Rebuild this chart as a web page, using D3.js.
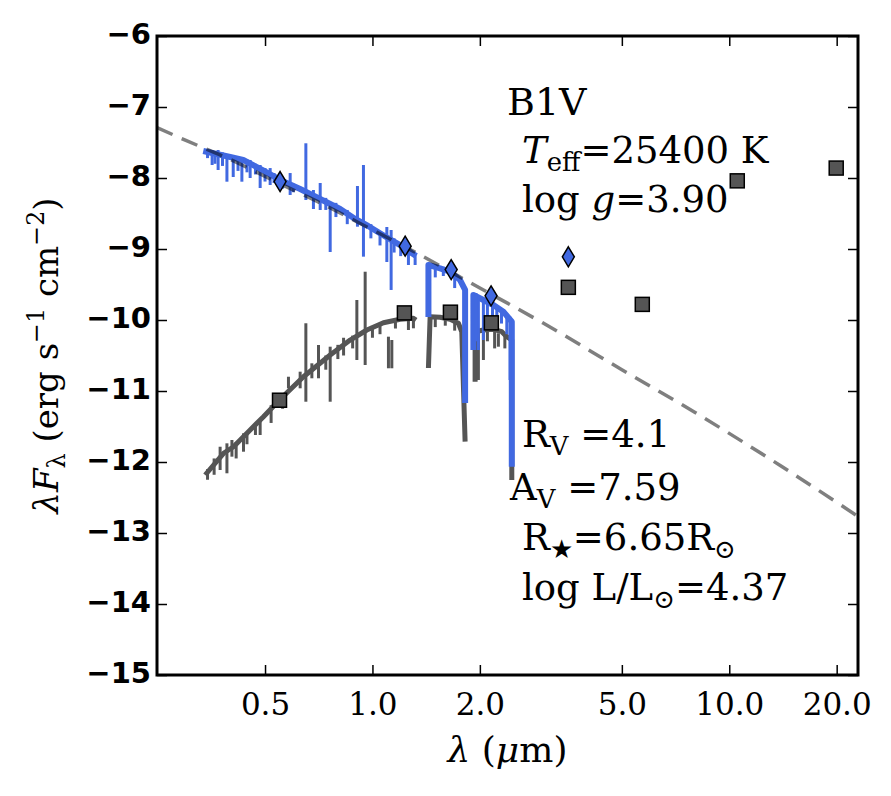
<!DOCTYPE html>
<html>
<head>
<meta charset="utf-8">
<script src="https://cdn.jsdelivr.net/npm/d3@7/dist/d3.min.js"></script>
<style>
body { margin: 0; background: #fff; }
text { font-family: 'DejaVu Serif', serif; fill: #000; }
</style>
</head>
<body>
<svg width="891" height="796"></svg>
<script>
/* global d3 */

/////////////////////////////////////////////////////////////////////////
// data

var xTicks = [0.5, 1, 2, 5, 10, 20]
var yTicks = [-15, -14, -13, -12, -11, -10, -9, -8, -7, -6]

// dashed photosphere curve
var bbLam = [0.249, 0.3, 0.4, 0.55, 0.7, 1.0, 1.3, 2.0, 3.0, 5.0, 8.0, 14, 23]
var bbVal = [-7.29, -7.47, -7.74, -8.08, -8.33, -8.73, -9.03, -9.55, -10.04, -10.70, -11.30, -12.06, -12.77]

// dereddened spectrum (blue), three pieces between telluric gaps
var blueSeg1 = [[0.3356,-7.620],[0.3554,-7.648],[0.3994,-7.704],[0.4343,-7.746],[0.4909,-7.887],[0.5512,-8.028],
	[0.6272,-8.155],[0.6777,-8.239],[0.8119,-8.437],[0.8944,-8.577],[0.9726,-8.676],[1.0924,-8.831],[1.1958,-8.944],
	[1.2753,-9.042],[1.3256,-9.099]]
var blueSeg2 = [[1.4352,-9.958],[1.4352,-9.225],[1.5474,-9.272],[1.6506,-9.320],[1.7606,-9.437],[1.8184,-9.577],[1.8184,-11.169]]
var blueSeg3 = [[1.9183,-10.423],[1.9183,-9.648],[2.0462,-9.718],[2.1827,-9.789],[2.3279,-9.883],[2.4577,-10.024],[2.4577,-12.066]]
// lines in the blue spectrum: [lambda, top, bottom]
var blueLines = [[0.6507,-7.511,-8.310],[0.9436,-7.817,-9.108],[0.9078,-8.113,-8.686],[0.7613,-8.338,-9.042],
	[1.1281,-8.732,-9.577],[1.0973,-8.690,-9.183],[0.7138,-8.070,-8.451],[0.5880,-7.930,-8.239],[0.6833,-8.169,-8.437],
	[0.4845,-7.817,-8.141],[0.4306,-7.718,-8.052],[0.3910,-7.662,-8.052],[0.3694,-7.606,-7.887],[0.4072,-7.676,-7.986],
	[1.2614,-8.986,-9.225],[1.3171,-9.056,-9.225],[0.3554,-7.606,-7.817],[0.4542,-7.746,-8.000],[0.5168,-7.860,-8.099],
	[1.9812,-9.690,-10.423],[2.0462,-9.718,-10.282],[2.2313,-9.813,-10.094],[2.4306,-9.954,-10.845],
	[0.345,-7.60,-7.72],[0.362,-7.62,-7.80],[0.380,-7.64,-7.83],[0.420,-7.70,-7.90],[0.445,-7.74,-7.92],
	[0.470,-7.80,-7.95],[0.500,-7.86,-8.05],[0.530,-7.93,-8.07],[0.560,-8.00,-8.15],[0.600,-8.08,-8.20],
	[0.740,-8.28,-8.45],[0.790,-8.35,-8.55],[0.850,-8.45,-8.65],[0.990,-8.65,-8.85],[1.050,-8.75,-8.95],
	[1.150,-8.85,-9.05],[1.200,-8.92,-9.10],[1.500,-9.22,-9.40],[1.580,-9.25,-9.38],[1.700,-9.35,-9.55],
	[1.950,-9.62,-10.30],[2.100,-9.72,-9.95],[2.170,-9.75,-10.00],[2.300,-9.85,-10.05],[2.380,-9.90,-10.20]]

// reddened spectrum (grey)
var greySeg1 = [[0.3398,-12.183],[0.3825,-11.877],[0.4080,-11.785],[0.4542,-11.549],[0.4950,-11.362],[0.5487,-11.127],
	[0.6407,-10.799],[0.7613,-10.493],[0.8659,-10.282],[0.9645,-10.141],[1.0735,-10.038],[1.1958,-9.990],
	[1.3026,-9.976],[1.3256,-10.000]]
var greySeg2 = [[1.4352,-10.676],[1.4508,-9.954],[1.5474,-9.962],[1.6506,-9.990],[1.7412,-10.046],[1.7798,-10.165],[1.8184,-11.714]]
var greySeg3 = [[1.9396,-10.869],[1.9396,-10.165],[2.0462,-10.141],[2.1827,-10.131],[2.3044,-10.165],[2.3790,-10.235],
	[2.4577,-10.282],[2.4577,-12.254]]
var greyLines = [[0.6507,-10.046,-11.151],[0.7613,-10.376,-11.151],[0.9043,-9.718,-10.563],[0.9541,-9.320,-10.634],
	[1.1087,-10.235,-10.680],[1.1332,-10.282,-10.680],[0.7059,-10.352,-10.821],[0.6764,-10.610,-10.821],
	[0.5816,-10.799,-10.962],[0.6272,-10.728,-10.962],[0.4845,-11.408,-11.620],[0.4351,-11.596,-11.855],
	[0.4038,-11.690,-11.925],[0.3910,-11.737,-12.159],[0.3742,-11.785,-12.113],[1.2614,-9.954,-10.141],
	[1.3026,-9.954,-10.117],[1.9812,-10.165,-10.845],[2.0462,-10.141,-10.563],[2.2540,-10.187,-10.376],
	[0.8300,-10.250,-10.500],
	[0.345,-12.10,-12.25],[0.360,-11.95,-12.18],[0.415,-11.72,-11.95],[0.445,-11.58,-11.75],[0.470,-11.45,-11.62],
	[0.520,-11.20,-11.45],[0.560,-11.08,-11.25],[0.740,-10.50,-10.70],[0.800,-10.35,-10.55],[0.880,-10.22,-10.40],
	[1.000,-10.10,-10.25],[1.050,-10.05,-10.20],[1.160,-9.98,-10.12],[1.500,-9.94,-10.10],[1.600,-9.96,-10.08],
	[1.700,-10.00,-10.15],[2.100,-10.12,-10.30],[2.200,-10.12,-10.40],[2.350,-10.20,-10.40]]

// photometry
var diaLam = [0.551, 1.235, 1.662, 2.150, 3.54]
var diaVal = [-8.05, -8.96, -9.29, -9.66, -9.11]
var sqLam = [0.549, 1.229, 1.654, 2.154, 3.54, 5.705, 10.53, 19.94]
var sqVal = [-11.13, -9.90, -9.89, -10.04, -9.54, -9.78, -8.04, -7.86]

/////////////////////////////////////////////////////////////////////////
// frame and scales

var svg = d3.select('svg'),
	margin = {top: 36, right: 33, bottom: 121, left: 157},
	width = 891 - margin.left - margin.right,
	height = 796 - margin.top - margin.bottom,
	g = svg.append('g').attr('transform', 'translate(' + margin.left + ',' + margin.top + ')')

var x = d3.scaleLog().domain([0.249, 22.95]).range([0, width])
var y = d3.scaleLinear().domain([-15, -6]).range([height, 0])

svg.append('defs').append('clipPath').attr('id', 'plot')
	.append('rect').attr('width', width).attr('height', height)

var plot = g.append('g').attr('clip-path', 'url(#plot)')
var line = d3.line().x(function(d) { return x(d[0]) }).y(function(d) { return y(d[1]) })

function spectrum(segs, lines, colour, lw) {
	segs.forEach(function(seg) {
		plot.append('path').datum(seg)
			.attr('d', line)
			.attr('fill', 'none')
			.attr('stroke', colour)
			.attr('stroke-width', lw)
			.attr('stroke-linejoin', 'round')
	})
	plot.append('g').selectAll('line').data(lines).enter().append('line')
		.attr('x1', function(d) { return x(d[0]) })
		.attr('x2', function(d) { return x(d[0]) })
		.attr('y1', function(d) { return y(d[1]) })
		.attr('y2', function(d) { return y(d[2]) })
		.attr('stroke', colour)
		.attr('stroke-width', 3)
}

spectrum([greySeg1, greySeg2, greySeg3], greyLines, '#555555', 5)
spectrum([blueSeg1, blueSeg2, blueSeg3], blueLines, 'royalblue', 6)

plot.append('path').datum(d3.zip(bbLam, bbVal))
	.attr('d', line.curve(d3.curveMonotoneX))
	.attr('fill', 'none')
	.attr('stroke', '#000')
	.attr('stroke-opacity', 0.5)
	.attr('stroke-width', 3.5)
	.attr('stroke-dasharray', '17,10')

g.append('g').selectAll('rect').data(d3.zip(sqLam, sqVal)).enter().append('rect')
	.attr('x', function(d) { return x(d[0]) - 7 })
	.attr('y', function(d) { return y(d[1]) - 7 })
	.attr('width', 14).attr('height', 14)
	.attr('fill', '#555555').attr('stroke', '#000').attr('stroke-width', 1.5)

g.append('g').selectAll('path').data(d3.zip(diaLam, diaVal)).enter().append('path')
	.attr('d', 'M0,-10L6,0L0,10L-6,0Z')
	.attr('transform', function(d) { return 'translate(' + x(d[0]) + ',' + y(d[1]) + ')' })
	.attr('fill', 'royalblue').attr('stroke', '#000').attr('stroke-width', 1.5)

/////////////////////////////////////////////////////////////////////////
// axes

var xb = g.append('g').attr('transform', 'translate(0,' + height + ')')
	.call(d3.axisBottom(x).tickValues(xTicks).tickFormat(d3.format('.1f')).tickSizeInner(-10).tickSizeOuter(0))
xb.selectAll('text').attr('y', 40).attr('dy', 0)
	.style('font-family', "'DejaVu Serif', serif").style('font-size', '31px')

g.append('g').call(d3.axisTop(x).tickValues(xTicks).tickFormat('').tickSizeInner(-10).tickSizeOuter(0))

var yl = g.append('g')
	.call(d3.axisLeft(y).tickValues(yTicks).tickFormat(d3.format('d')).tickSizeInner(-10).tickSizeOuter(0))
yl.selectAll('text').attr('x', -6).attr('dy', '0.25em')
	.style('font-family', "'DejaVu Sans', sans-serif").style('font-weight', 'bold').style('font-size', '29px')

g.append('g').attr('transform', 'translate(' + width + ',0)')
	.call(d3.axisRight(y).tickValues(yTicks).tickFormat('').tickSizeInner(-10).tickSizeOuter(0))

g.selectAll('.domain').remove()
g.selectAll('.tick line').attr('stroke', '#000').attr('stroke-width', 1.5)

g.append('rect').attr('width', width).attr('height', height)
	.attr('fill', 'none').attr('stroke', '#000').attr('stroke-width', 3)

/////////////////////////////////////////////////////////////////////////
// text

function mtext(parent, px, py, size, parts) {
	var t = parent.append('text').attr('x', px).attr('y', py).style('font-size', size + 'px')
	var shift = 0
	parts.forEach(function(p) {
		var target = p.sub ? size * 0.22 : p.sup ? -size * 0.42 : 0
		var s = t.append('tspan').attr('dy', target - shift).text(p.t)
		shift = target
		if (p.sub || p.sup) s.style('font-size', (size * 0.7) + 'px')
		if (p.i) s.style('font-style', 'italic')
	})
	return t
}

mtext(svg, 507, 115, 38, [{t: 'B1V'}])
mtext(svg, 522, 163, 37, [{t: 'T', i: true}, {t: 'eff', sub: true}, {t: '=25400 K'}])
mtext(svg, 522, 212, 37, [{t: 'log '}, {t: 'g', i: true}, {t: '=3.90'}])
mtext(svg, 522, 447, 37, [{t: 'R'}, {t: 'V', sub: true}, {t: ' =4.1'}])
mtext(svg, 510, 500, 37, [{t: 'A'}, {t: 'V', sub: true}, {t: ' =7.59'}])
mtext(svg, 522, 550, 37, [{t: 'R'}, {t: '★', sub: true}, {t: '=6.65R'}, {t: '⊙', sub: true}])
mtext(svg, 522, 600, 37, [{t: 'log L/L'}, {t: '⊙', sub: true}, {t: '=4.37'}])

mtext(svg, margin.left + width / 2, 762, 36, [{t: 'λ', i: true}, {t: ' ('}, {t: 'μ', i: true}, {t: 'm)'}])
	.attr('text-anchor', 'middle')

mtext(svg, 0, 0, 34, [{t: 'λF', i: true}, {t: 'λ', sub: true}, {t: ' (erg s'}, {t: '−1', sup: true},
	{t: ' cm'}, {t: '−2', sup: true}, {t: ')'}])
	.attr('text-anchor', 'middle')
	.attr('transform', 'translate(58,' + (margin.top + height / 2) + ') rotate(-90)')
</script>
</body>
</html>
